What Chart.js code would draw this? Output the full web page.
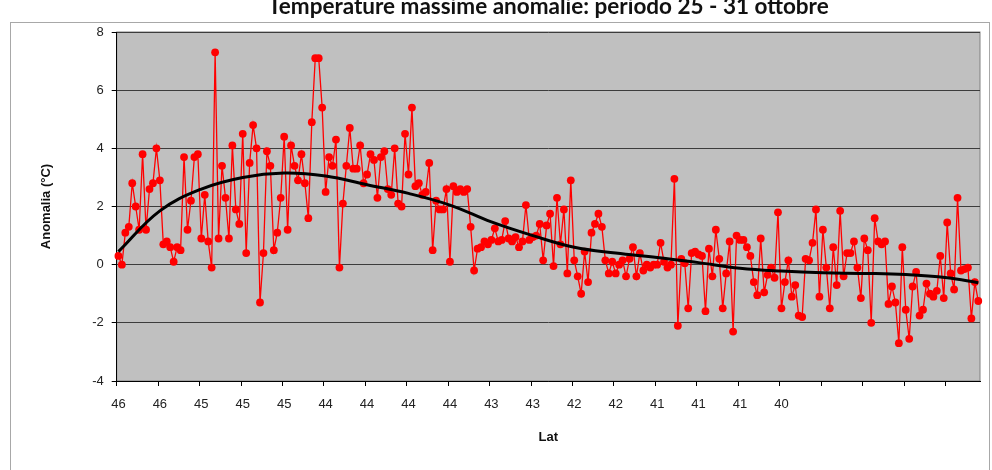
<!DOCTYPE html>
<html><head><meta charset="utf-8">
<script src="https://cdn.jsdelivr.net/npm/chart.js@4.4.1/dist/chart.umd.min.js"></script>
<style>
html,body{margin:0;padding:0;background:#fff;overflow:hidden;}
#wrap{position:absolute;left:0;top:-7px;width:992px;height:477px;}
</style></head><body>
<div id="wrap"><canvas id="c"></canvas></div>
<script>
const titleText = 'Temperature massime anomalie: periodo 25 - 31 ottobre';
const yAxisTitle = 'Anomalia (°C)';
const xAxisTitle = 'Lat';
const latTickLabels = ['46','46','45','45','45','44','44','44','44','43','43','42','42','41','41','41','40','','','',''];
const pointsPerTick = 12;
const yTicks = [-4, -2, 0, 2, 4, 6, 8];

const anomalies = [
  0.3, 0.0, 1.1, 1.3, 2.8, 2.0, 1.2, 3.8, 1.2, 2.6, 2.8, 4.0, 2.9, 0.7, 0.8, 0.6, 0.1, 0.6, 0.5, 3.7, 1.2, 2.2, 3.7, 3.8, 0.9, 2.4, 0.8, -0.1, 7.3,
  0.9, 3.4, 2.3, 0.9, 4.1, 1.9, 1.4, 4.5, 0.4, 3.5, 4.8, 4.0, -1.3, 0.4, 3.9, 3.4, 0.5, 1.1,
  2.3, 4.4, 1.2, 4.1, 3.4, 2.9, 3.8, 2.8, 1.6, 4.9, 7.1, 7.1, 5.4, 2.5, 3.7, 3.4, 4.3, -0.1, 2.1, 3.4, 4.7, 3.3, 3.3, 4.1, 2.8, 3.1, 3.8, 3.6, 2.3, 3.7, 3.9, 2.6, 2.4, 4.0, 2.1, 2.0, 4.5, 3.1, 5.4, 2.7, 2.8, 2.4, 2.5, 3.5, 0.5, 2.2, 1.9, 1.9, 2.6, 0.1, 2.7, 2.5,
  2.6, 2.5, 2.6, 1.3, -0.2, 0.55, 0.6, 0.8, 0.7, 0.85, 1.25, 0.8, 0.85, 1.5, 0.9, 0.8, 0.95, 0.6, 0.8, 2.05, 0.85, 0.95, 1.0, 1.4, 0.15, 1.35, 1.75, -0.05, 2.3, 0.7, 1.9, -0.3, 2.9, 0.15, -0.4, -1.0, 0.45, -0.6, 1.1, 1.4, 1.75, 1.3, 0.15, -0.3, 0.1, -0.3, 0.0, 0.15, -0.4, 0.2, 0.6,
  -0.4, 0.4, -0.2, 0.0, -0.1, 0.0, 0.0, 0.75, 0.1, -0.1, 0.0, 2.95, -2.1, 0.2, 0.05, -1.5, 0.4, 0.45, 0.35, 0.3, -1.6, 0.55, -0.4, 1.2, 0.2, -1.5, -0.3, 0.8, -2.3, 1.0, 0.85, 0.85, 0.6, 0.3, -0.6, -1.05, 0.9, -0.95, -0.35, -0.1, -0.45, 1.8, -1.5, -0.6, 0.15, -1.1, -0.7, -1.75,
  -1.8, 0.2, 0.15, 0.75, 1.9, -1.1, 1.2, -0.1, -1.5, 0.6, -0.7, 1.85, -0.4, 0.4, 0.4, 0.8, -0.1, -1.15, 0.9, 0.5, -2.0, 1.6, 0.8, 0.7, 0.8, -1.35, -0.75, -1.3, -2.7, 0.6, -1.55, -2.55, -0.75, -0.25, -1.75, -1.55, -0.65, -1.0, -1.1, -0.9, 0.3, -1.15, 1.45, -0.3, -0.85, 2.3, -0.2, -0.15, -0.1, -1.85, -0.6, -1.25
];

// trend line (polynomial fit) read at every labelled tick and at the last point
const trendIndex = [0, 12, 24, 36, 48, 60, 72, 84, 96, 108, 120, 132, 144, 156, 168, 180, 192, 204, 216, 228, 240, 249];
const trendValues = [0.45, 1.85, 2.6, 3.0, 3.15, 3.05, 2.75, 2.45, 2.05, 1.47, 1.0, 0.6, 0.4, 0.25, 0.07, -0.12, -0.22, -0.28, -0.3, -0.34, -0.45, -0.62];

const categories = anomalies.map((_, i) => (i % pointsPerTick === 0 ? (latTickLabels[i / pointsPerTick] || '') : ''));
const trendData = anomalies.map(() => null);
trendIndex.forEach((idx, k) => { trendData[idx] = trendValues[k]; });

const bgPlugin = {
  id: 'bg',
  beforeDraw(chart) {
    const {ctx, chartArea: a, width, height} = chart;
    ctx.save();
    ctx.fillStyle = '#ffffff';
    ctx.fillRect(0, 0, width, height);
    ctx.strokeStyle = '#a8a8a8';
    ctx.lineWidth = 1;
    ctx.strokeRect(10.5, 29.5, 979, 500);
    ctx.fillStyle = '#c0c0c0';
    ctx.fillRect(a.left, a.top, a.right - a.left, a.bottom - a.top);
    ctx.strokeStyle = '#808080';
    ctx.strokeRect(a.left, a.top, a.right - a.left, a.bottom - a.top);
    ctx.restore();
  }
};

Chart.defaults.font.family = "'Liberation Sans', Arial, sans-serif";

new Chart(document.getElementById('c'), {
  type: 'line',
  data: {
    labels: categories,
    datasets: [
      {
        label: 'Trend',
        data: trendData,
        borderColor: '#000000',
        borderWidth: 3,
        pointRadius: 0,
        tension: 0.4,
        spanGaps: true,
        order: 0
      },
      {
        label: 'Anomalia',
        data: anomalies,
        borderColor: '#ff0000',
        borderWidth: 1.3,
        pointRadius: 3.9,
        pointBackgroundColor: '#ff0000',
        pointBorderWidth: 0,
        tension: 0,
        order: 1
      }
    ]
  },
  options: {
    responsive: true,
    maintainAspectRatio: false,
    animation: false,
    layout: { padding: { left: 0, right: 12, top: 0, bottom: 0 } },
    plugins: {
      legend: { display: false },
      tooltip: { enabled: false },
      title: {
        display: true,
        text: titleText,
        fullSize: false,
        color: '#111',
        font: { family: 'Lato', size: 22.5, weight: 'bold' },
        padding: { top: 0, bottom: 12 }
      }
    },
    scales: {
      x: {
        type: 'category',
        offset: true,
        afterFit(s) { s.height = 89; },
        grid: {
          offset: true,
          drawOnChartArea: false,
          tickLength: 5,
          tickColor: (c) => (c.index % pointsPerTick === 0 ? '#000' : 'rgba(0,0,0,0)')
        },
        border: { color: '#000', width: 1 },
        ticks: {
          autoSkip: false,
          maxRotation: 0,
          minRotation: 0,
          padding: 11,
          color: '#222',
          font: { size: 13 }
        },
        title: {
          display: true,
          text: xAxisTitle,
          color: '#111',
          font: { size: 13, weight: 'bold' },
          padding: { top: 0, bottom: 25 }
        }
      },
      y: {
        min: yTicks[0],
        max: yTicks[yTicks.length - 1],
        afterFit(s) { s.width = 116.7; },
        afterBuildTicks(s) { s.ticks = yTicks.map(v => ({ value: v })); },
        grid: { color: '#3c3c3c', lineWidth: 1, tickLength: 5, tickColor: '#000' },
        border: { color: '#000', width: 1 },
        ticks: { padding: 8, color: '#222', font: { size: 13 } },
        title: {
          display: true,
          text: yAxisTitle,
          color: '#111',
          font: { size: 13, weight: 'bold' },
          padding: { top: 39, bottom: 0 }
        }
      }
    }
  },
  plugins: [bgPlugin]
});
</script>
</body></html>
